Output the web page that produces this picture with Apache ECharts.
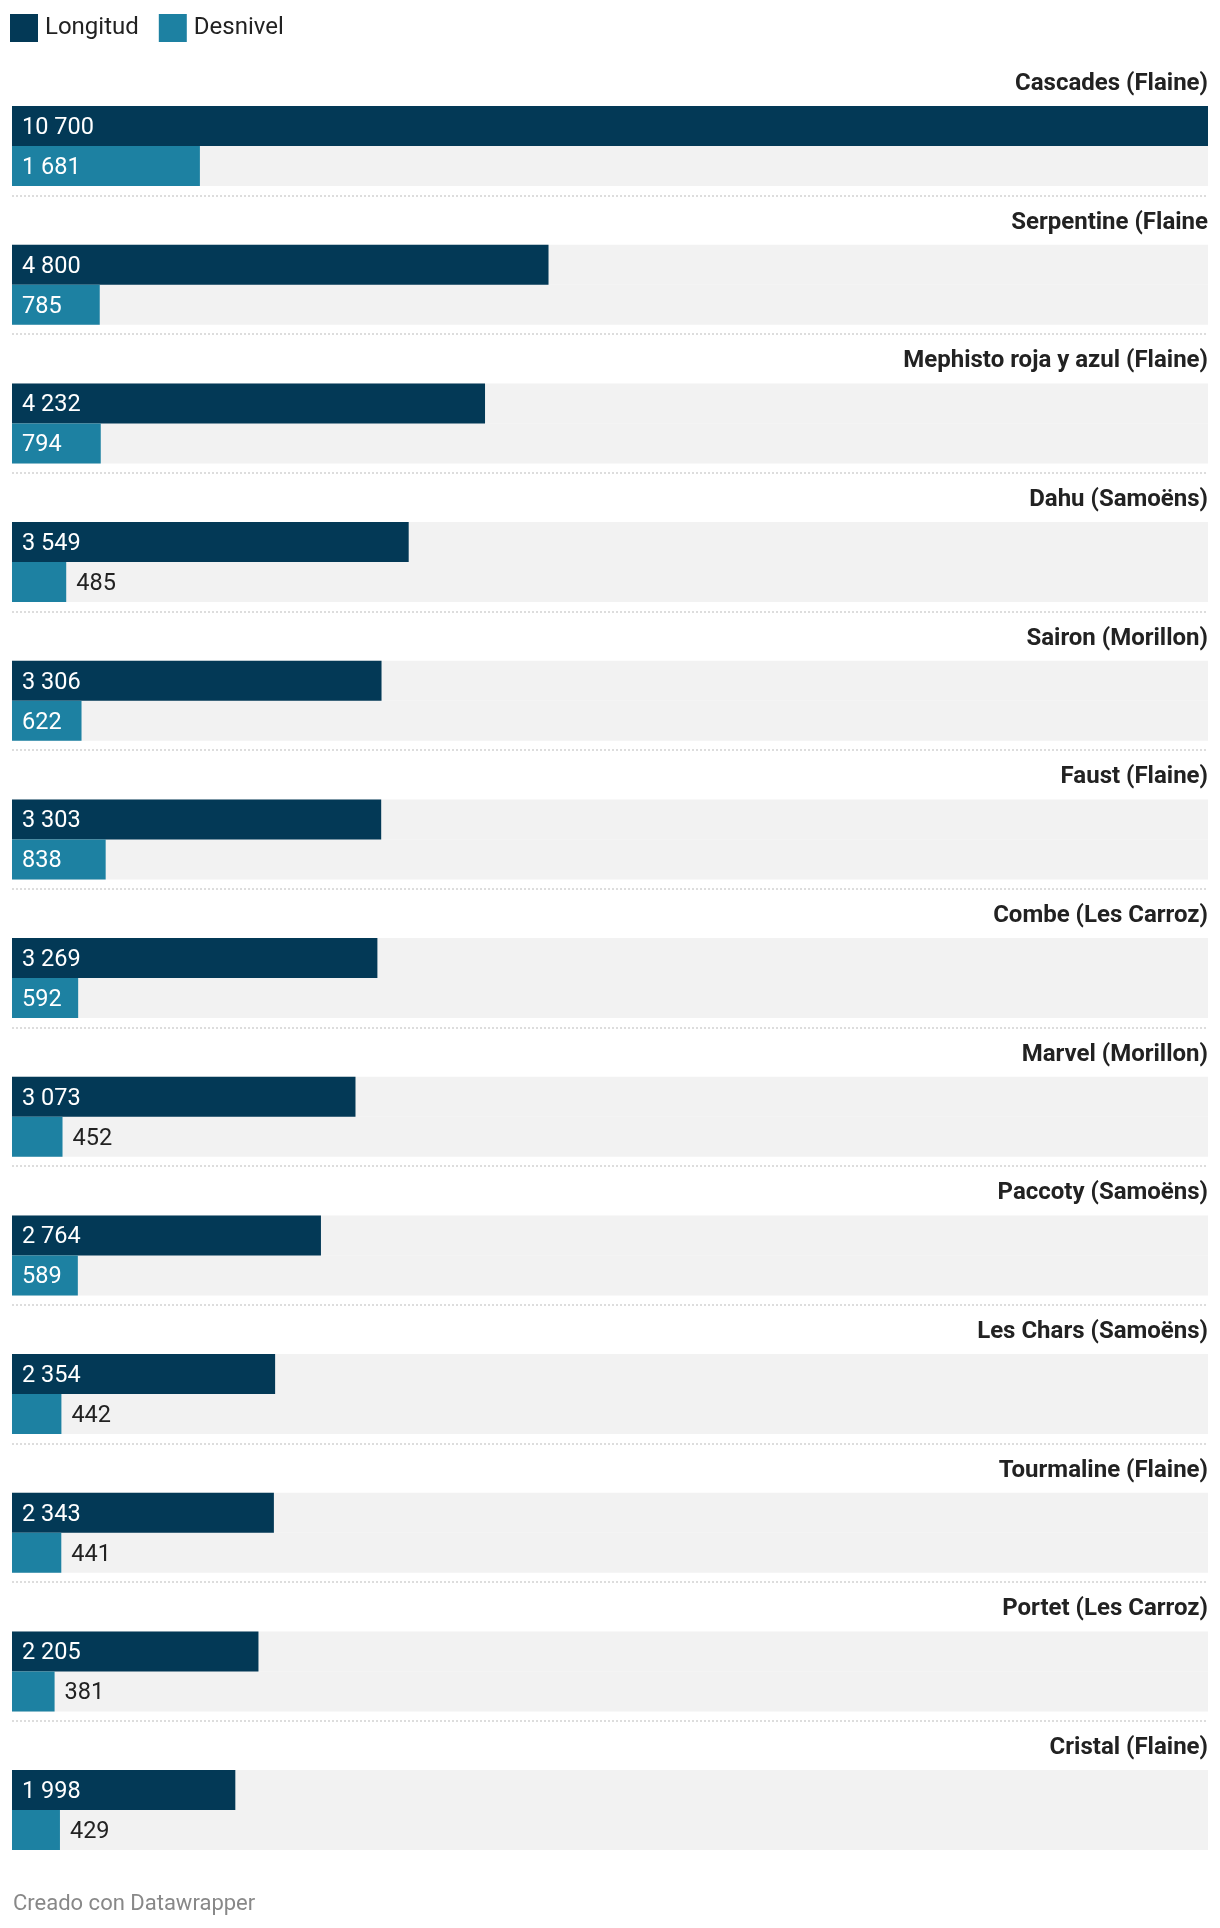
<!DOCTYPE html>
<html>
<head>
<meta charset="utf-8">
<script src="https://cdn.jsdelivr.net/npm/echarts@6/dist/echarts.min.js"></script>
<style>
  html, body { margin: 0; padding: 0; background: #fff; }
  #chart { width: 1220px; height: 1928px; }
</style>
</head>
<body>
<div id="chart"></div>
<script>
// datos
var pistas = ['Cascades (Flaine)', 'Serpentine (Flaine', 'Mephisto roja y azul (Flaine)', 'Dahu (Samoëns)',
    'Sairon (Morillon)', 'Faust (Flaine)', 'Combe (Les Carroz)', 'Marvel (Morillon)', 'Paccoty (Samoëns)',
    'Les Chars (Samoëns)', 'Tourmaline (Flaine)', 'Portet (Les Carroz)', 'Cristal (Flaine)'];
var longitud = [10700, 4800, 4232, 3549, 3306, 3303, 3269, 3073, 2764, 2354, 2343, 2205, 1998];
var desnivel = [1681, 785, 794, 485, 622, 838, 592, 452, 589, 442, 441, 381, 429];

var fuente = 'Roboto, "Noto Sans", sans-serif';

function miles(n) {
    return String(n).replace(/\B(?=(\d{3})+(?!\d))/g, ' ');
}

// etiqueta fuera de la barra cuando la barra es muy corta
function conEtiqueta(valores) {
    return valores.map(function (v) {
        if (v < 550) {
            return { value: v, label: { position: 'right', color: '#222', distance: 10 } };
        }
        return v;
    });
}

var chart = echarts.init(document.getElementById('chart'));

var option = {
    animation: false,
    textStyle: { fontFamily: fuente },
    title: {
        text: 'Creado con Datawrapper',
        left: 8,
        top: 1888,
        textStyle: { fontFamily: fuente, fontSize: 22, fontWeight: 'normal', color: '#888' }
    },
    legend: {
        data: ['Longitud', 'Desnivel'],
        left: 10,
        top: 14,
        padding: 0,
        itemWidth: 28,
        itemHeight: 28,
        itemGap: 20,
        icon: 'rect',
        textStyle: { fontFamily: fuente, fontSize: 24, color: '#222', padding: [0, 0, 0, 2] }
    },
    grid: {
        left: 12,
        right: 12,
        top: 56.7,
        height: 138.67 * 13
    },
    xAxis: {
        type: 'value',
        min: 0,
        max: 10700,
        show: false
    },
    yAxis: {
        type: 'category',
        data: pistas,
        inverse: true,
        axisLine: { show: false },
        axisTick: { show: false },
        axisLabel: { show: false },
        splitLine: {
            show: true,
            showMinLine: false,
            showMaxLine: false,
            lineStyle: { color: '#d2d2d2', type: [2, 2], width: 1.5 }
        }
    },
    series: [
        {
            // serie vacía: sólo lleva el nombre de la pista encima de las barras
            name: 'nombre',
            type: 'bar',
            barWidth: 40,
            barGap: 0,
            silent: true,
            data: longitud.map(function () { return 10700; }),
            itemStyle: { color: 'rgba(0,0,0,0)' },
            label: {
                show: true,
                position: 'insideRight',
                distance: 0,
                offset: [0, -2],
                formatter: '{b}',
                fontFamily: fuente,
                fontSize: 24,
                fontWeight: 'bold',
                color: '#222'
            }
        },
        {
            name: 'Longitud',
            type: 'bar',
            barWidth: 40,
            barGap: 0,
            data: longitud,
            itemStyle: { color: '#033956' },
            showBackground: true,
            backgroundStyle: { color: '#f2f2f2' },
            label: {
                show: true,
                position: 'insideLeft',
                distance: 10,
                offset: [0, 2],
                color: '#fff',
                fontFamily: fuente,
                fontSize: 23.5,
                formatter: function (p) { return miles(p.value); }
            }
        },
        {
            name: 'Desnivel',
            type: 'bar',
            barWidth: 40,
            barGap: 0,
            data: conEtiqueta(desnivel),
            itemStyle: { color: '#1d81a2' },
            showBackground: true,
            backgroundStyle: { color: '#f2f2f2' },
            label: {
                show: true,
                position: 'insideLeft',
                distance: 10,
                offset: [0, 2],
                color: '#fff',
                fontFamily: fuente,
                fontSize: 23.5,
                formatter: function (p) { return miles(p.value); }
            }
        }
    ]
};

chart.setOption(option);
</script>
</body>
</html>
